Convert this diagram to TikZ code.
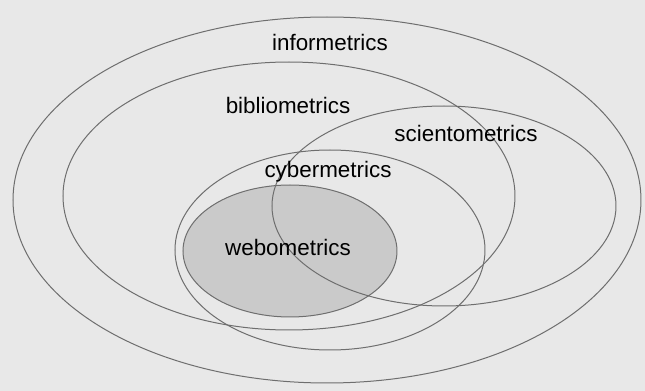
\documentclass[tikz,border=0pt]{standalone}
\usepackage{fontspec}
\setmainfont{Liberation Sans}
\definecolor{fondo}{HTML}{E8E8E8}
\definecolor{borde}{HTML}{6E6E6E}
\definecolor{web}{HTML}{CACACA}
\begin{document}
\begin{tikzpicture}[x=0.5pt,y=-0.5pt,
  campo/.style={draw=borde, line width=0.5pt},
  etiqueta/.style={text=black, font=\fontsize{11.2}{13}\selectfont}]
% Fondo
\useasboundingbox (0,0) rectangle (645,391);
\fill[fondo] (0,0) rectangle (645,391);

% Webometrics (sombreado)
\filldraw[campo, fill=web] (290,251) ellipse (107 and 66);

% Elipses
\draw[campo] (327,200) ellipse (314 and 183);
\draw[campo] (289,196) ellipse (226 and 134);
\draw[campo] (444,206) ellipse (172 and 100);
\draw[campo] (330,250) ellipse (155 and 100);

% Textos
\node[etiqueta] (infor) at (330,42) {informetrics};
\node[etiqueta] (biblio) at (288,105) {bibliometrics};
\node[etiqueta] (cienti) at (466,133) {scientometrics};
\node[etiqueta] (ciber) at (328,172) {cybermetrics};
\node[etiqueta] (webo) at (288,247) {webometrics};
\end{tikzpicture}
\end{document}
